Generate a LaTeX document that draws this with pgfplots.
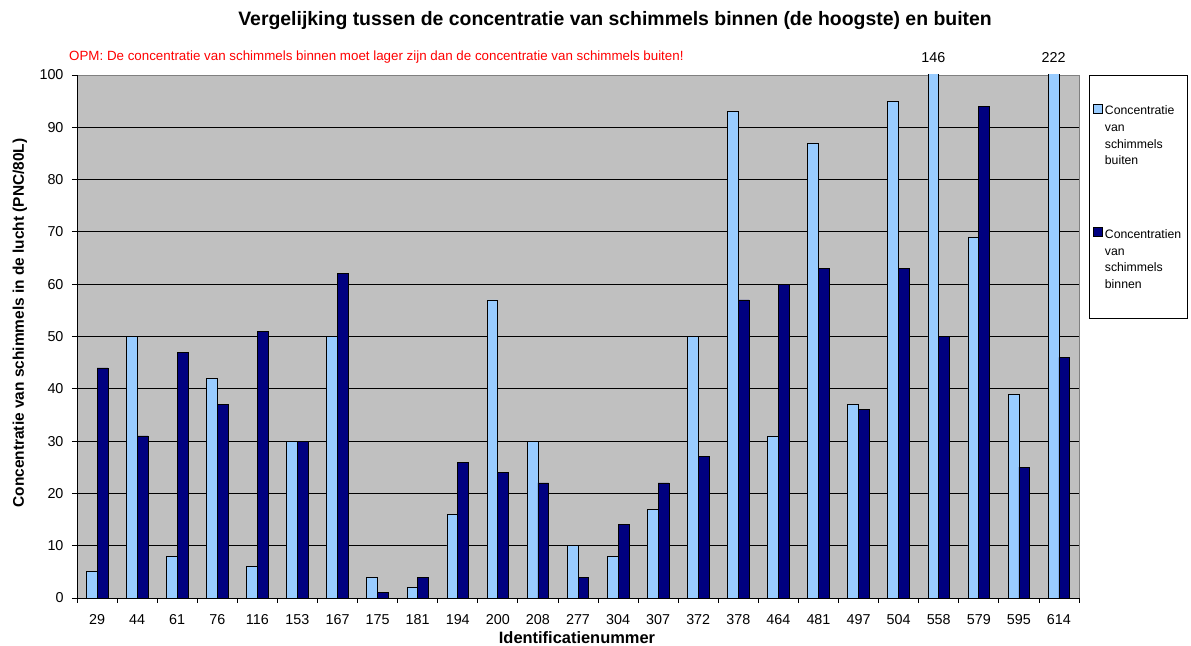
\documentclass[border=0pt]{standalone}
\usepackage{pgfplots}
\usepackage{pgfplotstable}
\pgfplotsset{compat=1.18}
\usepackage{fontspec}
\setmainfont{Liberation Sans}
\definecolor{lichtblauw}{RGB}{153,204,255}
\definecolor{donkerblauw}{RGB}{0,0,128}
\definecolor{achtergrond}{RGB}{192,192,192}
\definecolor{rand}{RGB}{128,128,128}
\definecolor{opmrood}{RGB}{255,0,0}

\pgfplotstableread{
idx id buiten binnen
0 29 5 44
1 44 50 31
2 61 8 47
3 76 42 37
4 116 6 51
5 153 30 30
6 167 50 62
7 175 4 1
8 181 2 4
9 194 16 26
10 200 57 24
11 208 30 22
12 277 10 4
13 304 8 14
14 307 17 22
15 372 50 27
16 378 93 57
17 464 31 60
18 481 87 63
19 497 37 36
20 504 95 63
21 558 146 50
22 579 69 94
23 595 39 25
24 614 222 46
}\datatable

\begin{document}
\begin{tikzpicture}
\path[use as bounding box] (0,0) rectangle (1191bp,646bp);
\begin{axis}[
  at={(77bp,48bp)}, anchor=south west,
  scale only axis, width=1002bp, height=523bp,
  xmin=-0.5, xmax=24.5, ymin=0, ymax=100,
  ybar=0pt, bar width=0.27,
  clip mode=individual,
  axis background/.style={fill=achtergrond, draw=rand, line width=0.8bp},
  axis x line*=bottom, axis y line*=left,
  axis line style={-, black, line width=0.8bp},
  xtick={0,...,24},
  xticklabels from table={\datatable}{id},
  major x tick style={draw=none},
  minor xtick={-0.5,0.5,...,24.5},
  minor x tick style={black, line width=0.8bp},
  ytick={0,10,...,90},
  extra y ticks={100},
  extra y tick style={grid=none},
  ymajorgrids,
  major grid style={black, line width=0.8bp},
  y tick style={black, line width=0.8bp},
  tick align=outside,
  major tick length=5bp, minor tick length=5bp,
  /pgf/number format/assume math mode=true,
  tick label style={font=\fontsize{14.4}{16}\selectfont},
  xticklabel style={yshift=-8bp},
  yticklabel style={xshift=-5bp},
  xlabel={Identificatienummer},
  xlabel style={font=\fontsize{16.5}{19}\selectfont\bfseries, at={(axis description cs:0.499,-0.0765)}, anchor=center},
  ylabel={Concentratie van schimmels in de lucht (PNC/80L)},
  ylabel style={font=\fontsize{15.5}{18}\selectfont\bfseries, at={(axis description cs:-0.0569,0.526)}, anchor=center},
  every axis title shift=0pt,
  title={Vergelijking tussen de concentratie van schimmels binnen (de hoogste) en buiten},
  title style={font=\fontsize{19.5}{22}\selectfont\bfseries, at={(axis description cs:0.537,1.105)}, anchor=center},
  legend style={at={(axis description cs:1.01,1)}, anchor=north west,
    draw=black, fill=white, line width=0.6bp,
    inner xsep=4bp, inner ysep=26bp, row sep=56.6bp,
    font=\fontsize{12.3}{16.7}\selectfont,
    cells={anchor=west}},
]
\addplot[fill=lichtblauw, draw=black, line width=0.7bp,
  legend image code/.code={\draw[fill=lichtblauw, draw=black, line width=0.6bp] (0bp,22bp) rectangle (9bp,31bp);}]
  table[x=idx, y=buiten] {\datatable};
\addlegendentry{\begin{tabular}[b]{@{}l@{}}Concentratie\\van\\schimmels\\buiten\end{tabular}}
\addplot[fill=donkerblauw, draw=black, line width=0.7bp,
  legend image code/.code={\draw[fill=donkerblauw, draw=black, line width=0.6bp] (0bp,22bp) rectangle (9bp,31bp);}]
  table[x=idx, y=binnen] {\datatable};
\addlegendentry{\begin{tabular}[b]{@{}l@{}}Concentratien\\van\\schimmels\\binnen\end{tabular}}
\node[anchor=south, inner sep=3bp, yshift=9bp, font=\fontsize{14.4}{16}\selectfont] at (axis cs:20.865,100) {146};
\node[anchor=south, inner sep=3bp, yshift=9bp, font=\fontsize{14.4}{16}\selectfont] at (axis cs:23.865,100) {222};
\node[anchor=west, inner sep=0pt, text=opmrood, font=\fontsize{13.4}{15}\selectfont] at (axis description cs:-0.008,1.0344) {OPM: De concentratie van schimmels binnen moet lager zijn dan de concentratie van schimmels buiten!};
\end{axis}
\end{tikzpicture}
\end{document}
